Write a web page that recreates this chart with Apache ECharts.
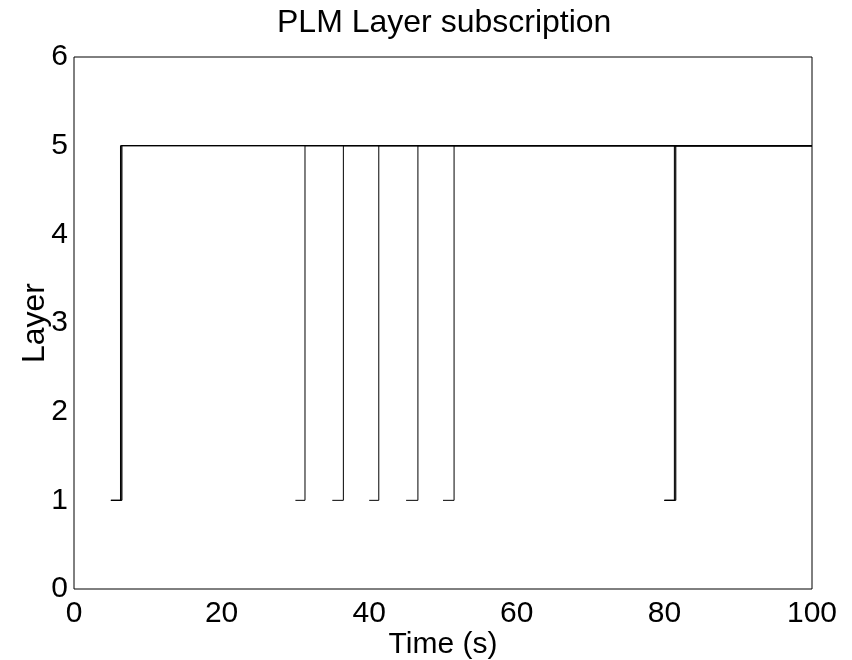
<!DOCTYPE html>
<html>
<head>
<meta charset="utf-8">
<title>PLM Layer subscription</title>
<script src="https://cdn.jsdelivr.net/npm/echarts@6/dist/echarts.min.js"></script>
<style>
	html, body { margin: 0; padding: 0; background: #fff; }
	#main { width: 852px; height: 660px; }
</style>
</head>
<body>
<div id="main"></div>
<script>
// each receiver: joins at layer 1, then subscribes up to layer 5
var joinTimes = [5, 5, 5, 30, 35, 40, 45, 50, 80, 80, 80];
var jumpTimes = [6.3, 6.4, 6.5, 31.3, 36.5, 41.3, 46.6, 51.5, 81.35, 81.45, 81.55];
var lowLayer = 1;
var highLayer = 5;
var endTime = 100;
var xTicks = [0, 20, 40, 60, 80, 100];
var yTicks = [0, 1, 2, 3, 4, 5, 6];

var myChart = echarts.init(document.getElementById('main'));
var font = 'Liberation Sans, Arial, sans-serif';

var series = [];
for (var i = 0; i < joinTimes.length; i++) {
	series.push({
		type: 'line',
		showSymbol: false,
		silent: true,
		lineStyle: { color: '#000', width: 1 },
		data: [
			[joinTimes[i], lowLayer],
			[jumpTimes[i], lowLayer],
			[jumpTimes[i], highLayer],
			[endTime, highLayer]
		]
	});
}

var option = {
	animation: false,
	backgroundColor: '#fff',
	// title centred over the plot area, not the canvas
	graphic: [{
		type: 'text',
		left: 443 - 166,
		top: 7,
		style: {
			text: 'PLM Layer subscription',
			font: '32px ' + font,
			fill: '#000'
		}
	}],
	grid: {
		left: 74,
		right: 40,
		top: 57,
		bottom: 71,
		outerBoundsMode: 'none',
		show: true,
		borderColor: '#000',
		borderWidth: 1
	},
	xAxis: {
		type: 'value',
		min: xTicks[0],
		max: xTicks[xTicks.length - 1],
		interval: 20,
		name: 'Time (s)',
		nameLocation: 'middle',
		nameGap: 41,
		nameMoveOverlap: false,
		nameTextStyle: { fontFamily: font, fontSize: 30, color: '#000' },
		axisLine: { show: false },
		axisTick: { show: false },
		splitLine: { show: false },
		axisLabel: { fontFamily: font, fontSize: 30, color: '#000', margin: 10 }
	},
	yAxis: {
		type: 'value',
		min: yTicks[0],
		max: yTicks[yTicks.length - 1],
		interval: 1,
		name: 'Layer',
		nameLocation: 'middle',
		nameGap: 23,
		nameMoveOverlap: false,
		nameTextStyle: { fontFamily: font, fontSize: 32, color: '#000' },
		axisLine: { show: false },
		axisTick: { show: false },
		splitLine: { show: false },
		axisLabel: { fontFamily: font, fontSize: 30, color: '#000', margin: 6 }
	},
	series: series
};
myChart.setOption(option);
</script>
</body>
</html>
